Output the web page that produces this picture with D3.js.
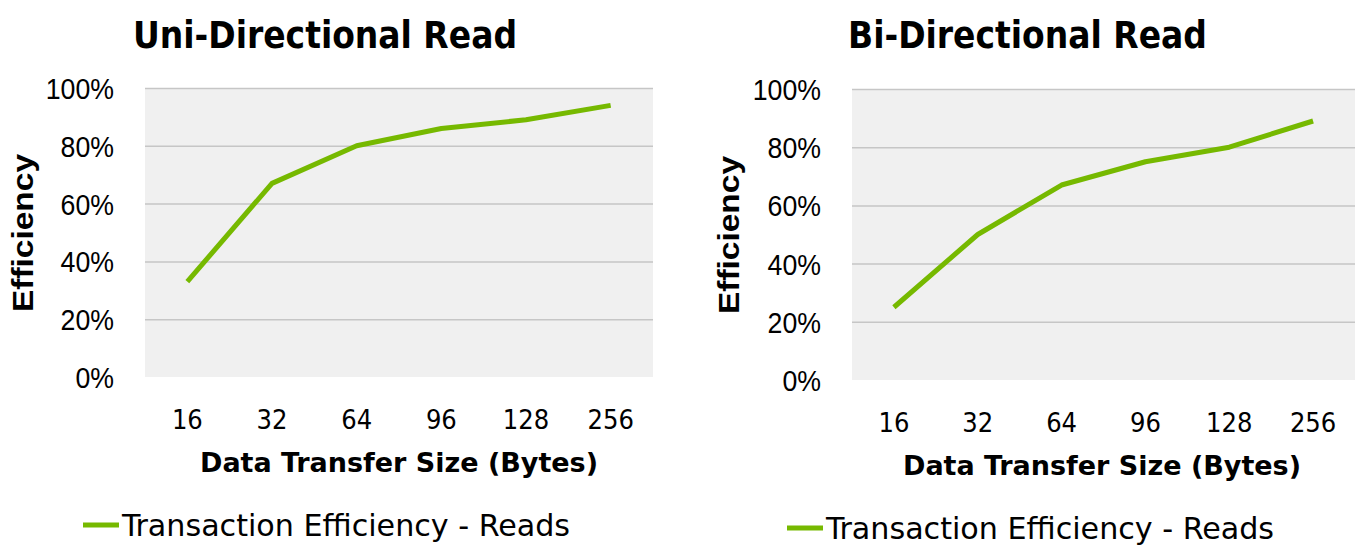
<!DOCTYPE html>
<html>
<head>
<meta charset="utf-8">
<script src="https://cdn.jsdelivr.net/npm/d3@7"></script>
<style>
  body { margin: 0; background: #fff; }
  .title { font-family: "DejaVu Sans Condensed", "DejaVu Sans"; font-weight: bold; fill: #000; }
  .ytick { font-family: "Liberation Sans", Arial; fill: #000; }
  .xtick { font-family: "DejaVu Sans Condensed", "DejaVu Sans"; fill: #000; }
  .xlab { font-family: "DejaVu Sans Condensed", "DejaVu Sans"; font-weight: bold; fill: #000; }
  .ylab { font-family: "Liberation Sans", Arial; font-weight: bold; fill: #000; }
  .legend { font-family: "DejaVu Sans Condensed", "DejaVu Sans"; fill: #000; }
</style>
</head>
<body>
<div id="chart"></div>
<script>
var sizes = ["16", "32", "64", "96", "128", "256"];
var uni_read = [0.33, 0.67, 0.80, 0.86, 0.89, 0.94];
var bi_read = [0.25, 0.50, 0.67, 0.75, 0.80, 0.89];
var pct_ticks = [0, 0.2, 0.4, 0.6, 0.8, 1.0];

var svg = d3.select("#chart").append("svg")
    .attr("width", 1367)
    .attr("height", 553);

function panel(values, title, o) {
  var x = d3.scaleBand().domain(sizes).range([o.left, o.right]);
  var y = d3.scaleLinear().domain([0, 1]).range([o.bottom, o.top]);
  var g = svg.append("g");

  ////// plot background + grid //////
  g.append("rect")
    .attr("x", o.left).attr("y", o.top)
    .attr("width", o.right - o.left).attr("height", o.bottom - o.top)
    .attr("fill", "#f0f0f0");

  g.append("g")
    .attr("transform", "translate(" + o.left + ",0)")
    .call(d3.axisLeft(y).tickValues(pct_ticks.slice(1)).tickSize(-(o.right - o.left)).tickFormat(""))
    .call(function(a) {
      a.select(".domain").remove();
      a.selectAll("line").attr("stroke", "#c6c6c6").attr("stroke-width", 1.5);
    });

  ////// y tick labels (slightly narrowed) //////
  g.selectAll("text.ytick")
    .data(pct_ticks)
    .enter().append("text")
    .attr("class", "ytick")
    .attr("transform", function(d) { return "translate(" + o.ylabx + "," + (y(d) + 11) + ") scale(0.89,1)"; })
    .attr("text-anchor", "end")
    .attr("font-size", 30)
    .text(function(d) { return d3.format(".0%")(d); });

  ////// x tick labels //////
  g.selectAll("text.xtick")
    .data(sizes)
    .enter().append("text")
    .attr("class", "xtick")
    .attr("x", function(d) { return x(d) + x.bandwidth() / 2; })
    .attr("y", o.xticky)
    .attr("text-anchor", "middle")
    .attr("font-size", 27)
    .text(function(d) { return d; });

  ////// line //////
  var line = d3.line()
    .x(function(d, i) { return x(sizes[i]) + x.bandwidth() / 2; })
    .y(function(d) { return y(d); });

  g.append("path")
    .datum(values)
    .attr("d", line)
    .attr("fill", "none")
    .attr("stroke", "#76b900")
    .attr("stroke-width", 5)
    .attr("stroke-linejoin", "round");

  ////// titles //////
  g.append("text")
    .attr("class", "title")
    .attr("x", o.titlex).attr("y", 48)
    .attr("font-size", 37)
    .attr("textLength", o.titlew).attr("lengthAdjust", "spacingAndGlyphs")
    .text(title);

  g.append("text")
    .attr("class", "xlab")
    .attr("x", (o.xlab0 + o.xlab1) / 2).attr("y", o.xlaby)
    .attr("text-anchor", "middle")
    .attr("font-size", 27)
    .attr("textLength", o.xlab1 - o.xlab0).attr("lengthAdjust", "spacingAndGlyphs")
    .text("Data Transfer Size (Bytes)");

  g.append("text")
    .attr("class", "ylab")
    .attr("transform", "translate(" + o.ytitlex + "," + o.ytitley + ") rotate(-90)")
    .attr("text-anchor", "middle")
    .attr("font-size", 30)
    .attr("textLength", 158).attr("lengthAdjust", "spacingAndGlyphs")
    .text("Efficiency");

  ////// legend //////
  g.append("line")
    .attr("x1", o.legx).attr("x2", o.legx + 36)
    .attr("y1", o.legy - 11).attr("y2", o.legy - 11)
    .attr("stroke", "#76b900").attr("stroke-width", 5);

  g.append("text")
    .attr("class", "legend")
    .attr("x", o.legx + 39).attr("y", o.legy)
    .attr("font-size", 30)
    .attr("textLength", 448).attr("lengthAdjust", "spacingAndGlyphs")
    .text("Transaction Efficiency - Reads");
}

panel(uni_read, "Uni-Directional Read", {
  left: 145, right: 653, top: 88, bottom: 377,
  ylabx: 114, xticky: 429, titlex: 133, titlew: 384,
  xlab0: 200, xlab1: 598, xlaby: 472,
  ytitlex: 33, ytitley: 233, legx: 83, legy: 536
});

panel(bi_read, "Bi-Directional Read", {
  left: 852, right: 1355, top: 89, bottom: 380,
  ylabx: 821, xticky: 432, titlex: 848, titlew: 359,
  xlab0: 903, xlab1: 1301, xlaby: 475,
  ytitlex: 739, ytitley: 235, legx: 787, legy: 539
});
</script>
</body>
</html>
